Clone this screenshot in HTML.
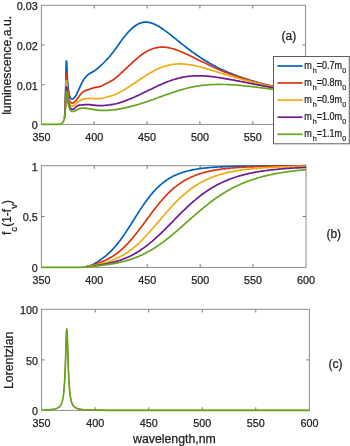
<!DOCTYPE html>
<html><head><meta charset="utf-8"><title>plot</title>
<style>html,body{margin:0;padding:0;background:#fff}svg{display:block}text{stroke:#222;stroke-width:.25px}</style></head>
<body>
<svg width="350" height="446" viewBox="0 0 350 446" font-family="'Liberation Sans', sans-serif" fill="#222222">
<rect width="350" height="446" fill="#fff"/>
<path d="M94.2 124.4v-3.2M94.2 5.3v3.2M147.1 124.4v-3.2M147.1 5.3v3.2M199.9 124.4v-3.2M199.9 5.3v3.2M252.8 124.4v-3.2M252.8 5.3v3.2M41.4 84.7h3.2M305.6 84.7h-3.2M41.4 45.0h3.2M305.6 45.0h-3.2" stroke="#6a6a6a" stroke-width="0.9" fill="none"/>
<rect x="41.4" y="5.3" width="264.2" height="119.1" fill="none" stroke="#8c8c8c" stroke-width="1"/>
<g fill="none" stroke-width="1.70" stroke-linejoin="round" stroke-linecap="butt">
<polyline stroke="#0062BE" points="64.3,118.9 64.4,118.5 64.5,117.9 64.6,117.2 64.7,116.3 64.8,114.7 64.9,111.4 65.0,107.2 65.1,103.2 65.2,100.0 65.3,97.6 65.4,95.4 65.5,93.0 65.6,90.1 65.7,86.1 65.8,80.8 65.9,75.6 66.0,70.1 66.1,65.6 66.2,62.4 66.3,61.1 66.4,60.9 66.5,60.9 66.6,61.1 66.7,62.1 66.8,63.7 66.9,66.3 67.0,68.7 67.1,71.2 67.2,73.6 67.3,75.8 67.4,77.9 67.5,79.5 67.6,80.9 67.7,82.2 67.8,83.3 67.9,84.3 68.0,85.4 68.1,86.3 68.2,87.2 68.3,88.0 68.4,88.8 68.5,89.6 68.6,90.4 68.7,91.2 68.8,92.0 68.9,92.8 69.0,93.5 69.1,94.2 69.2,94.8 69.3,95.3 69.4,95.7 69.5,96.0 69.6,96.3 69.7,96.6 69.8,96.9 69.9,97.1 70.0,97.3 70.1,97.5 70.2,97.7 70.3,97.9 70.4,98.0 70.5,98.1 70.6,98.2 70.7,98.3 70.8,98.4 70.9,98.5 71.0,98.6 71.1,98.6 71.2,98.7 71.3,98.8 71.4,98.8 71.5,98.9 71.6,98.9 71.7,99.0 71.8,99.0 71.9,99.0 72.0,99.0 72.1,99.0 72.2,99.0 72.3,99.0 72.4,99.0 72.5,98.9 72.6,98.9 72.7,98.9 72.8,98.8 72.9,98.8 73.0,98.7 73.1,98.7 73.2,98.6 73.3,98.6 73.4,98.5 73.5,98.4 73.6,98.4 73.7,98.3 73.8,98.2 73.9,98.1 74.0,98.0 74.1,97.9 74.2,97.8 74.3,97.7 74.4,97.6 74.5,97.5 74.6,97.4 74.7,97.2 74.8,97.1 74.9,97.0 75.0,96.8 75.1,96.7 75.2,96.6 75.3,96.4 75.4,96.3 75.5,96.1 75.6,96.0 75.7,95.8 75.8,95.6 75.9,95.5 76.0,95.3 76.1,95.1 76.2,95.0 76.3,94.8 76.4,94.6 76.5,94.4 76.6,94.2 76.7,94.0 76.8,93.8 76.9,93.6 77.0,93.4 77.1,93.2 77.2,93.0 77.3,92.8 77.4,92.6 77.5,92.4 77.6,92.2 77.7,92.0 77.8,91.8 77.9,91.6 78.0,91.3 78.1,91.1 78.2,90.9 78.3,90.7 78.4,90.5 78.5,90.2 78.6,90.0 78.7,89.8 78.8,89.6 78.9,89.3 79.0,89.1 79.1,88.9 79.2,88.7 79.3,88.4 79.4,88.2 79.5,88.0 79.6,87.8 79.7,87.5 79.8,87.3 79.9,87.1 80.0,86.9 80.1,86.6 80.2,86.4 80.3,86.2 80.4,86.0 80.5,85.7 80.6,85.5 80.7,85.3 80.8,85.1 80.9,84.9 81.0,84.7 81.1,84.4 81.2,84.2 81.3,84.0 81.4,83.8 81.5,83.6 81.6,83.4 81.7,83.2 81.8,83.0 81.9,82.8 82.0,82.6 82.1,82.4 82.2,82.2 82.3,82.0 82.4,81.8 82.5,81.7 82.6,81.5 82.7,81.3 82.8,81.1 82.9,80.9 83.0,80.8 83.1,80.6 83.2,80.4 83.3,80.3 83.4,80.1 83.5,80.0 83.6,79.8 83.7,79.6 83.8,79.5 83.9,79.3 84.0,79.2 84.1,79.0 84.2,78.9 84.3,78.7 84.4,78.6 84.5,78.5 84.6,78.3 84.7,78.2 84.8,78.1 84.9,77.9 85.0,77.8 85.1,77.7 85.2,77.5 85.3,77.4 85.4,77.3 85.5,77.2 85.6,77.1 85.7,76.9 85.8,76.8 85.9,76.7 86.0,76.6 86.1,76.5 86.2,76.4 86.3,76.3 86.4,76.2 86.5,76.1 86.6,76.0 86.7,75.9 86.8,75.8 86.9,75.7 87.0,75.6 87.1,75.5 87.2,75.4 87.3,75.3 87.4,75.2 87.5,75.1 87.6,75.0 87.7,74.9 87.8,74.9 87.9,74.8 88.0,74.7 88.1,74.6 88.2,74.5 88.3,74.5 88.4,74.4 88.5,74.3 88.6,74.2 88.7,74.2 88.8,74.1 88.9,74.0 89.0,74.0 89.1,73.9 89.2,73.8 89.3,73.8 89.4,73.7 89.5,73.6 89.6,73.6 89.7,73.5 89.8,73.4 89.9,73.4 90.0,73.3 90.1,73.2 90.2,73.2 90.3,73.1 90.4,73.1 90.5,73.0 90.6,72.9 90.7,72.9 90.8,72.8 90.9,72.8 91.0,72.7 91.1,72.7 91.2,72.6 91.3,72.6 91.4,72.5 91.5,72.4 91.6,72.4 91.7,72.3 91.8,72.3 91.9,72.2 92.0,72.2 92.1,72.1 92.2,72.1 92.3,72.0 92.4,71.9 92.5,71.9 92.6,71.8 92.7,71.8 92.8,71.7 92.9,71.7 93.0,71.6 93.1,71.6 93.2,71.5 93.3,71.4 93.4,71.4 93.5,71.3 93.6,71.3 93.7,71.2 93.8,71.1 93.9,71.1 94.0,71.0 94.1,71.0 94.2,70.9 94.3,70.8 94.4,70.8 94.5,70.7 94.6,70.6 94.7,70.6 94.8,70.5 94.9,70.4 95.0,70.4 95.1,70.3 95.2,70.2 95.3,70.2 95.4,70.1 95.5,70.0 95.6,69.9 95.7,69.9 95.8,69.8 95.9,69.7 96.0,69.7 96.1,69.6 96.2,69.5 96.3,69.4 96.4,69.3 96.5,69.3 96.6,69.2 96.7,69.1 96.8,69.0 96.9,69.0 97.0,68.9 97.1,68.8 97.2,68.7 97.3,68.6 97.4,68.6 97.5,68.5 97.6,68.4 97.7,68.3 97.8,68.2 97.9,68.1 98.0,68.1 98.1,68.0 98.2,67.9 98.3,67.8 98.4,67.7 98.5,67.6 98.6,67.5 98.7,67.5 98.8,67.4 98.9,67.3 99.0,67.2 99.1,67.1 99.2,67.0 99.3,66.9 99.4,66.8 99.5,66.7 99.6,66.7 99.7,66.6 99.8,66.5 99.9,66.4 100.0,66.3 101.0,65.4 102.0,64.5 103.0,63.5 104.0,62.5 105.0,61.5 106.0,60.5 107.0,59.4 108.0,58.3 109.0,57.2 110.0,56.0 111.0,54.8 112.0,53.5 113.0,52.2 114.0,50.9 115.0,49.6 116.0,48.2 117.0,46.8 118.0,45.3 119.0,43.9 120.0,42.5 121.0,41.2 122.0,39.8 123.0,38.5 124.0,37.2 125.0,36.0 126.0,34.7 127.0,33.6 128.0,32.4 129.0,31.3 130.0,30.3 131.0,29.3 132.0,28.4 133.0,27.5 134.0,26.7 135.0,26.0 136.0,25.3 137.0,24.7 138.0,24.1 139.0,23.6 140.0,23.2 141.0,22.9 142.0,22.6 143.0,22.4 144.0,22.2 145.0,22.2 146.0,22.1 147.0,22.2 148.0,22.3 149.0,22.4 150.0,22.6 151.0,22.9 152.0,23.2 153.0,23.6 154.0,24.0 155.0,24.4 156.0,24.9 157.0,25.4 158.0,26.0 159.0,26.6 160.0,27.2 161.0,27.8 162.0,28.5 163.0,29.2 164.0,29.9 165.0,30.6 166.0,31.3 167.0,32.1 168.0,32.9 169.0,33.6 170.0,34.4 171.0,35.2 172.0,36.0 173.0,36.8 174.0,37.6 175.0,38.4 176.0,39.2 177.0,40.1 178.0,40.9 179.0,41.7 180.0,42.5 181.0,43.3 182.0,44.1 183.0,44.9 184.0,45.6 185.0,46.4 186.0,47.2 187.0,48.0 188.0,48.7 189.0,49.5 190.0,50.2 191.0,51.0 192.0,51.7 193.0,52.4 194.0,53.1 195.0,53.8 196.0,54.5 197.0,55.2 198.0,55.9 199.0,56.6 200.0,57.2 201.0,57.9 202.0,58.5 203.0,59.2 204.0,59.8 205.0,60.4 206.0,61.0 207.0,61.6 208.0,62.2 209.0,62.8 210.0,63.4 211.0,63.9 212.0,64.5 213.0,65.1 214.0,65.6 215.0,66.1 216.0,66.7 217.0,67.2 218.0,67.7 219.0,68.2 220.0,68.7 221.0,69.2 222.0,69.6 223.0,70.1 224.0,70.5 225.0,71.0 226.0,71.4 227.0,71.8 228.0,72.3 229.0,72.7 230.0,73.1 231.0,73.5 232.0,73.9 233.0,74.3 234.0,74.7 235.0,75.1 236.0,75.4 237.0,75.8 238.0,76.2 239.0,76.5 240.0,76.9 241.0,77.2 242.0,77.6 243.0,77.9 244.0,78.2 245.0,78.6 246.0,78.9 247.0,79.2 248.0,79.5 249.0,79.9 250.0,80.2 251.0,80.5 252.0,80.8 253.0,81.1 254.0,81.4 255.0,81.6 256.0,81.9 257.0,82.2 258.0,82.5 259.0,82.8 260.0,83.0 261.0,83.3 262.0,83.5 263.0,83.8 264.0,84.1 265.0,84.3 266.0,84.6 267.0,84.8 268.0,85.1 269.0,85.3 270.0,85.5 271.0,85.8 272.0,86.0 273.0,86.2 274.0,86.4 275.0,86.7 276.0,86.9 277.0,87.1 278.0,87.3 279.0,87.5 280.0,87.7 281.0,87.9 282.0,88.1 283.0,88.3 284.0,88.5 285.0,88.7 286.0,88.9 287.0,89.1 288.0,89.3 289.0,89.5 290.0,89.7 291.0,89.9 292.0,90.1 293.0,90.2 294.0,90.4 295.0,90.6 296.0,90.8 297.0,90.9 298.0,91.1 299.0,91.3 300.0,91.4 301.0,91.6 302.0,91.8 303.0,91.9 304.0,92.1 305.6,92.3"/>
<polyline stroke="#DA3510" points="64.4,118.4 64.5,117.8 64.6,117.1 64.7,116.3 64.8,115.0 64.9,112.7 65.0,109.8 65.1,107.0 65.2,104.6 65.3,102.7 65.4,100.9 65.5,98.9 65.6,96.6 65.7,93.3 65.8,89.0 65.9,84.7 66.0,80.3 66.1,76.6 66.2,74.0 66.3,73.0 66.4,72.8 66.5,72.8 66.6,72.9 66.7,73.6 66.8,74.8 66.9,76.7 67.0,78.6 67.1,80.5 67.2,82.4 67.3,84.2 67.4,85.8 67.5,87.2 67.6,88.3 67.7,89.3 67.8,90.2 67.9,91.0 68.0,91.8 68.1,92.6 68.2,93.3 68.3,93.9 68.4,94.6 68.5,95.2 68.6,95.8 68.7,96.4 68.8,97.0 68.9,97.6 69.0,98.2 69.1,98.8 69.2,99.3 69.3,99.8 69.4,100.1 69.5,100.4 69.6,100.7 69.7,100.9 69.8,101.2 69.9,101.4 70.0,101.6 70.1,101.7 70.2,101.9 70.3,102.0 70.4,102.2 70.5,102.3 70.6,102.3 70.7,102.4 70.8,102.5 70.9,102.6 71.0,102.6 71.1,102.7 71.2,102.8 71.3,102.8 71.4,102.9 71.5,102.9 71.6,103.0 71.7,103.0 71.8,103.0 71.9,103.1 72.0,103.1 72.1,103.1 72.2,103.1 72.3,103.1 72.4,103.1 72.5,103.1 72.6,103.1 72.7,103.0 72.8,103.0 72.9,103.0 73.0,103.0 73.1,102.9 73.2,102.9 73.3,102.8 73.4,102.8 73.5,102.7 73.6,102.7 73.7,102.6 73.8,102.6 73.9,102.5 74.0,102.4 74.1,102.4 74.2,102.3 74.3,102.2 74.4,102.1 74.5,102.0 74.6,102.0 74.7,101.9 74.8,101.8 74.9,101.7 75.0,101.6 75.1,101.5 75.2,101.4 75.3,101.3 75.4,101.2 75.5,101.1 75.6,101.0 75.7,100.8 75.8,100.7 75.9,100.6 76.0,100.5 76.1,100.4 76.2,100.3 76.3,100.1 76.4,100.0 76.5,99.9 76.6,99.8 76.7,99.6 76.8,99.5 76.9,99.4 77.0,99.2 77.1,99.1 77.2,99.0 77.3,98.8 77.4,98.7 77.5,98.6 77.6,98.4 77.7,98.3 77.8,98.2 77.9,98.0 78.0,97.9 78.1,97.7 78.2,97.6 78.3,97.5 78.4,97.3 78.5,97.2 78.6,97.0 78.7,96.9 78.8,96.8 78.9,96.6 79.0,96.5 79.1,96.4 79.2,96.2 79.3,96.1 79.4,95.9 79.5,95.8 79.6,95.7 79.7,95.5 79.8,95.4 79.9,95.3 80.0,95.1 80.1,95.0 80.2,94.9 80.3,94.7 80.4,94.6 80.5,94.5 80.6,94.4 80.7,94.2 80.8,94.1 80.9,94.0 81.0,93.9 81.1,93.8 81.2,93.6 81.3,93.5 81.4,93.4 81.5,93.3 81.6,93.2 81.7,93.1 81.8,93.0 81.9,92.9 82.0,92.8 82.1,92.7 82.2,92.6 82.3,92.5 82.4,92.4 82.5,92.3 82.6,92.3 82.7,92.2 82.8,92.1 82.9,92.0 83.0,91.9 83.1,91.9 83.2,91.8 83.3,91.7 83.4,91.7 83.5,91.6 83.6,91.5 83.7,91.5 83.8,91.4 83.9,91.3 84.0,91.3 84.1,91.2 84.2,91.2 84.3,91.1 84.4,91.1 84.5,91.0 84.6,91.0 84.7,90.9 84.8,90.9 84.9,90.8 85.0,90.8 85.1,90.7 85.2,90.7 85.3,90.6 85.4,90.6 85.5,90.6 85.6,90.5 85.7,90.5 85.8,90.4 85.9,90.4 86.0,90.4 86.1,90.3 86.2,90.3 86.3,90.3 86.4,90.2 86.5,90.2 86.6,90.2 86.7,90.1 86.8,90.1 86.9,90.1 87.0,90.0 87.1,90.0 87.2,90.0 87.3,89.9 87.4,89.9 87.5,89.9 87.6,89.8 87.7,89.8 87.8,89.8 87.9,89.7 88.0,89.7 88.1,89.7 88.2,89.6 88.3,89.6 88.4,89.6 88.5,89.5 88.6,89.5 88.7,89.5 88.8,89.4 88.9,89.4 89.0,89.4 89.1,89.3 89.2,89.3 89.3,89.3 89.4,89.2 89.5,89.2 89.6,89.2 89.7,89.1 89.8,89.1 89.9,89.0 90.0,89.0 90.1,89.0 90.2,88.9 90.3,88.9 90.4,88.9 90.5,88.8 90.6,88.8 90.7,88.8 90.8,88.7 90.9,88.7 91.0,88.7 91.1,88.6 91.2,88.6 91.3,88.6 91.4,88.5 91.5,88.5 91.6,88.5 91.7,88.4 91.8,88.4 91.9,88.4 92.0,88.3 92.1,88.3 92.2,88.3 92.3,88.2 92.4,88.2 92.5,88.2 92.6,88.1 92.7,88.1 92.8,88.1 92.9,88.0 93.0,88.0 93.1,88.0 93.2,88.0 93.3,87.9 93.4,87.9 93.5,87.9 93.6,87.9 93.7,87.8 93.8,87.8 93.9,87.8 94.0,87.7 94.1,87.7 94.2,87.7 94.3,87.7 94.4,87.7 94.5,87.6 94.6,87.6 94.7,87.6 94.8,87.6 94.9,87.5 95.0,87.5 95.1,87.5 95.2,87.5 95.3,87.5 95.4,87.4 95.5,87.4 95.6,87.4 95.7,87.4 95.8,87.4 95.9,87.4 96.0,87.3 96.1,87.3 96.2,87.3 96.3,87.3 96.4,87.3 96.5,87.3 96.6,87.2 96.7,87.2 96.8,87.2 96.9,87.2 97.0,87.2 97.1,87.2 97.2,87.1 97.3,87.1 97.4,87.1 97.5,87.1 97.6,87.1 97.7,87.0 97.8,87.0 97.9,87.0 98.0,87.0 98.1,87.0 98.2,86.9 98.3,86.9 98.4,86.9 98.5,86.9 98.6,86.9 98.7,86.8 98.8,86.8 98.9,86.8 99.0,86.8 99.1,86.7 99.2,86.7 99.3,86.7 99.4,86.7 99.5,86.6 99.6,86.6 99.7,86.6 99.8,86.6 99.9,86.5 100.0,86.5 101.0,86.2 102.0,85.7 103.0,85.3 104.0,84.8 105.0,84.3 106.0,83.7 107.0,83.2 108.0,82.7 109.0,82.2 110.0,81.6 111.0,81.1 112.0,80.5 113.0,79.9 114.0,79.3 115.0,78.5 116.0,77.7 117.0,76.9 118.0,76.0 119.0,75.1 120.0,74.1 121.0,73.2 122.0,72.3 123.0,71.4 124.0,70.4 125.0,69.5 126.0,68.6 127.0,67.6 128.0,66.7 129.0,65.7 130.0,64.8 131.0,63.8 132.0,62.9 133.0,62.0 134.0,61.1 135.0,60.2 136.0,59.3 137.0,58.4 138.0,57.6 139.0,56.8 140.0,56.0 141.0,55.2 142.0,54.5 143.0,53.8 144.0,53.1 145.0,52.5 146.0,51.9 147.0,51.3 148.0,50.8 149.0,50.3 150.0,49.8 151.0,49.4 152.0,49.0 153.0,48.6 154.0,48.3 155.0,48.0 156.0,47.8 157.0,47.6 158.0,47.4 159.0,47.3 160.0,47.2 161.0,47.2 162.0,47.1 163.0,47.1 164.0,47.2 165.0,47.2 166.0,47.3 167.0,47.5 168.0,47.6 169.0,47.8 170.0,48.0 171.0,48.3 172.0,48.5 173.0,48.8 174.0,49.1 175.0,49.4 176.0,49.7 177.0,50.1 178.0,50.5 179.0,50.8 180.0,51.2 181.0,51.7 182.0,52.1 183.0,52.5 184.0,52.9 185.0,53.4 186.0,53.9 187.0,54.3 188.0,54.8 189.0,55.3 190.0,55.7 191.0,56.2 192.0,56.7 193.0,57.2 194.0,57.7 195.0,58.2 196.0,58.7 197.0,59.2 198.0,59.7 199.0,60.2 200.0,60.7 201.0,61.2 202.0,61.7 203.0,62.1 204.0,62.6 205.0,63.1 206.0,63.6 207.0,64.1 208.0,64.6 209.0,65.0 210.0,65.5 211.0,66.0 212.0,66.5 213.0,66.9 214.0,67.4 215.0,67.8 216.0,68.3 217.0,68.7 218.0,69.2 219.0,69.6 220.0,70.0 221.0,70.5 222.0,70.9 223.0,71.3 224.0,71.7 225.0,72.1 226.0,72.4 227.0,72.8 228.0,73.2 229.0,73.6 230.0,74.0 231.0,74.3 232.0,74.7 233.0,75.0 234.0,75.4 235.0,75.7 236.0,76.1 237.0,76.4 238.0,76.8 239.0,77.1 240.0,77.4 241.0,77.8 242.0,78.1 243.0,78.4 244.0,78.7 245.0,79.0 246.0,79.3 247.0,79.6 248.0,79.9 249.0,80.2 250.0,80.5 251.0,80.8 252.0,81.1 253.0,81.4 254.0,81.7 255.0,81.9 256.0,82.2 257.0,82.5 258.0,82.7 259.0,83.0 260.0,83.3 261.0,83.5 262.0,83.8 263.0,84.0 264.0,84.3 265.0,84.5 266.0,84.8 267.0,85.0 268.0,85.2 269.0,85.5 270.0,85.7 271.0,85.9 272.0,86.1 273.0,86.4 274.0,86.6 275.0,86.8 276.0,87.0 277.0,87.2 278.0,87.4 279.0,87.6 280.0,87.8 281.0,88.0 282.0,88.2 283.0,88.4 284.0,88.6 285.0,88.8 286.0,89.0 287.0,89.2 288.0,89.4 289.0,89.6 290.0,89.8 291.0,89.9 292.0,90.1 293.0,90.3 294.0,90.5 295.0,90.6 296.0,90.8 297.0,91.0 298.0,91.2 299.0,91.3 300.0,91.5 301.0,91.6 302.0,91.8 303.0,92.0 304.0,92.1 305.6,92.4"/>
<polyline stroke="#EFAC12" points="64.7,116.3 64.8,115.2 64.9,113.5 65.0,111.5 65.1,109.4 65.2,107.5 65.3,105.9 65.4,104.4 65.5,102.7 65.6,100.6 65.7,97.8 65.8,94.2 65.9,90.5 66.0,86.7 66.1,83.6 66.2,81.4 66.3,80.5 66.4,80.3 66.5,80.3 66.6,80.4 66.7,80.9 66.8,81.7 66.9,83.2 67.0,84.7 67.1,86.2 67.2,87.7 67.3,89.2 67.4,90.6 67.5,91.8 67.6,92.8 67.7,93.7 67.8,94.5 67.9,95.2 68.0,95.9 68.1,96.5 68.2,97.1 68.3,97.7 68.4,98.2 68.5,98.7 68.6,99.2 68.7,99.7 68.8,100.2 68.9,100.7 69.0,101.2 69.1,101.7 69.2,102.1 69.3,102.6 69.4,103.0 69.5,103.4 69.6,103.7 69.7,103.9 69.8,104.1 69.9,104.3 70.0,104.5 70.1,104.7 70.2,104.8 70.3,105.0 70.4,105.1 70.5,105.2 70.6,105.3 70.7,105.4 70.8,105.5 70.9,105.6 71.0,105.6 71.1,105.7 71.2,105.7 71.3,105.8 71.4,105.8 71.5,105.9 71.6,105.9 71.7,106.0 71.8,106.0 71.9,106.1 72.0,106.1 72.1,106.1 72.2,106.2 72.3,106.2 72.4,106.2 72.5,106.2 72.6,106.2 72.7,106.2 72.8,106.2 72.9,106.2 73.0,106.1 73.1,106.1 73.2,106.1 73.3,106.0 73.4,106.0 73.5,105.9 73.6,105.9 73.7,105.8 73.8,105.8 73.9,105.7 74.0,105.6 74.1,105.5 74.2,105.5 74.3,105.4 74.4,105.3 74.5,105.2 74.6,105.1 74.7,105.0 74.8,104.9 74.9,104.8 75.0,104.7 75.1,104.6 75.2,104.5 75.3,104.4 75.4,104.3 75.5,104.2 75.6,104.1 75.7,104.0 75.8,103.9 75.9,103.8 76.0,103.7 76.1,103.6 76.2,103.5 76.3,103.4 76.4,103.3 76.5,103.2 76.6,103.1 76.7,103.0 76.8,102.9 76.9,102.8 77.0,102.8 77.1,102.7 77.2,102.6 77.3,102.5 77.4,102.4 77.5,102.3 77.6,102.2 77.7,102.2 77.8,102.1 77.9,102.0 78.0,101.9 78.1,101.8 78.2,101.8 78.3,101.7 78.4,101.6 78.5,101.5 78.6,101.5 78.7,101.4 78.8,101.3 78.9,101.3 79.0,101.2 79.1,101.1 79.2,101.1 79.3,101.0 79.4,100.9 79.5,100.9 79.6,100.8 79.7,100.8 79.8,100.7 79.9,100.6 80.0,100.6 80.1,100.5 80.2,100.5 80.3,100.4 80.4,100.4 80.5,100.3 80.6,100.2 80.7,100.2 80.8,100.1 80.9,100.1 81.0,100.0 81.1,100.0 81.2,99.9 81.3,99.9 81.4,99.9 81.5,99.8 81.6,99.8 81.7,99.7 81.8,99.7 81.9,99.6 82.0,99.6 82.1,99.6 82.2,99.5 82.3,99.5 82.4,99.4 82.5,99.4 82.6,99.4 82.7,99.3 82.8,99.3 82.9,99.3 83.0,99.2 83.1,99.2 83.2,99.2 83.3,99.1 83.4,99.1 83.5,99.1 83.6,99.1 83.7,99.0 83.8,99.0 83.9,99.0 84.0,99.0 84.1,98.9 84.2,98.9 84.3,98.9 84.4,98.9 84.5,98.8 84.6,98.8 84.7,98.8 84.8,98.8 84.9,98.7 85.0,98.7 85.1,98.7 85.2,98.7 85.3,98.7 85.4,98.7 85.5,98.6 85.6,98.6 85.7,98.6 85.8,98.6 85.9,98.6 86.0,98.6 86.1,98.6 86.2,98.5 86.3,98.5 86.4,98.5 86.5,98.5 86.6,98.5 86.7,98.5 86.8,98.5 86.9,98.5 87.0,98.5 87.1,98.5 87.2,98.4 87.3,98.4 87.4,98.4 87.5,98.4 87.6,98.4 87.7,98.4 87.8,98.4 87.9,98.4 88.0,98.4 88.1,98.4 88.2,98.4 88.3,98.4 88.4,98.4 88.5,98.4 88.6,98.4 88.7,98.4 88.8,98.4 88.9,98.4 89.0,98.4 89.1,98.4 89.2,98.4 89.3,98.4 89.4,98.4 89.5,98.4 89.6,98.4 89.7,98.4 89.8,98.4 89.9,98.4 90.0,98.4 90.1,98.4 90.2,98.4 90.3,98.4 90.4,98.4 90.5,98.4 90.6,98.4 90.7,98.4 90.8,98.4 90.9,98.4 91.0,98.4 91.1,98.4 91.2,98.4 91.3,98.4 91.4,98.4 91.5,98.4 91.6,98.4 91.7,98.4 91.8,98.5 91.9,98.5 92.0,98.5 92.1,98.5 92.2,98.5 92.3,98.5 92.4,98.5 92.5,98.5 92.6,98.5 92.7,98.5 92.8,98.5 92.9,98.5 93.0,98.5 93.1,98.5 93.2,98.5 93.3,98.5 93.4,98.5 93.5,98.6 93.6,98.6 93.7,98.6 93.8,98.6 93.9,98.6 94.0,98.6 94.1,98.6 94.2,98.6 94.3,98.6 94.4,98.6 94.5,98.6 94.6,98.6 94.7,98.6 94.8,98.6 94.9,98.6 95.0,98.6 95.1,98.7 95.2,98.7 95.3,98.7 95.4,98.7 95.5,98.7 95.6,98.7 95.7,98.7 95.8,98.7 95.9,98.7 96.0,98.7 96.1,98.7 96.2,98.7 96.3,98.7 96.4,98.7 96.5,98.7 96.6,98.7 96.7,98.7 96.8,98.7 96.9,98.7 97.0,98.7 97.1,98.7 97.2,98.7 97.3,98.7 97.4,98.7 97.5,98.7 97.6,98.7 97.7,98.7 97.8,98.7 97.9,98.7 98.0,98.7 98.1,98.7 98.2,98.7 98.3,98.7 98.4,98.7 98.5,98.7 98.6,98.7 98.7,98.7 98.8,98.7 98.9,98.7 99.0,98.7 99.1,98.7 99.2,98.7 99.3,98.7 99.4,98.7 99.5,98.6 99.6,98.6 99.7,98.6 99.8,98.6 99.9,98.6 100.0,98.6 101.0,98.5 102.0,98.3 103.0,98.0 104.0,97.8 105.0,97.5 106.0,97.3 107.0,97.0 108.0,96.7 109.0,96.5 110.0,96.2 111.0,96.0 112.0,95.7 113.0,95.4 114.0,95.0 115.0,94.7 116.0,94.2 117.0,93.7 118.0,93.2 119.0,92.7 120.0,92.1 121.0,91.6 122.0,91.0 123.0,90.5 124.0,89.9 125.0,89.3 126.0,88.7 127.0,88.0 128.0,87.4 129.0,86.8 130.0,86.1 131.0,85.5 132.0,84.8 133.0,84.2 134.0,83.5 135.0,82.8 136.0,82.2 137.0,81.5 138.0,80.8 139.0,80.1 140.0,79.5 141.0,78.8 142.0,78.1 143.0,77.5 144.0,76.8 145.0,76.2 146.0,75.5 147.0,74.9 148.0,74.3 149.0,73.7 150.0,73.1 151.0,72.5 152.0,71.9 153.0,71.4 154.0,70.8 155.0,70.3 156.0,69.8 157.0,69.3 158.0,68.8 159.0,68.4 160.0,68.0 161.0,67.6 162.0,67.2 163.0,66.8 164.0,66.5 165.0,66.1 166.0,65.8 167.0,65.6 168.0,65.3 169.0,65.1 170.0,64.9 171.0,64.7 172.0,64.5 173.0,64.4 174.0,64.2 175.0,64.1 176.0,64.1 177.0,64.0 178.0,63.9 179.0,63.9 180.0,63.9 181.0,63.9 182.0,64.0 183.0,64.0 184.0,64.1 185.0,64.2 186.0,64.3 187.0,64.4 188.0,64.5 189.0,64.6 190.0,64.8 191.0,65.0 192.0,65.1 193.0,65.3 194.0,65.5 195.0,65.7 196.0,66.0 197.0,66.2 198.0,66.4 199.0,66.7 200.0,66.9 201.0,67.2 202.0,67.5 203.0,67.7 204.0,68.0 205.0,68.3 206.0,68.6 207.0,68.9 208.0,69.2 209.0,69.5 210.0,69.8 211.0,70.1 212.0,70.4 213.0,70.7 214.0,71.0 215.0,71.3 216.0,71.6 217.0,72.0 218.0,72.3 219.0,72.6 220.0,72.9 221.0,73.2 222.0,73.5 223.0,73.8 224.0,74.1 225.0,74.4 226.0,74.7 227.0,75.0 228.0,75.3 229.0,75.6 230.0,75.9 231.0,76.2 232.0,76.5 233.0,76.8 234.0,77.1 235.0,77.4 236.0,77.6 237.0,77.9 238.0,78.2 239.0,78.5 240.0,78.8 241.0,79.0 242.0,79.3 243.0,79.6 244.0,79.9 245.0,80.1 246.0,80.4 247.0,80.7 248.0,80.9 249.0,81.2 250.0,81.4 251.0,81.7 252.0,82.0 253.0,82.2 254.0,82.5 255.0,82.7 256.0,82.9 257.0,83.2 258.0,83.4 259.0,83.7 260.0,83.9 261.0,84.1 262.0,84.4 263.0,84.6 264.0,84.8 265.0,85.0 266.0,85.3 267.0,85.5 268.0,85.7 269.0,85.9 270.0,86.1 271.0,86.3 272.0,86.6 273.0,86.8 274.0,87.0 275.0,87.2 276.0,87.4 277.0,87.6 278.0,87.8 279.0,88.0 280.0,88.2 281.0,88.4 282.0,88.5 283.0,88.7 284.0,88.9 285.0,89.1 286.0,89.3 287.0,89.5 288.0,89.6 289.0,89.8 290.0,90.0 291.0,90.2 292.0,90.3 293.0,90.5 294.0,90.7 295.0,90.8 296.0,91.0 297.0,91.2 298.0,91.3 299.0,91.5 300.0,91.6 301.0,91.8 302.0,92.0 303.0,92.1 304.0,92.3 305.6,92.5"/>
<polyline stroke="#701C90" points="64.8,115.4 64.9,114.2 65.0,112.9 65.1,111.5 65.2,110.1 65.3,108.8 65.4,107.4 65.5,105.9 65.6,104.2 65.7,101.8 65.8,98.7 65.9,95.6 66.0,92.4 66.1,89.7 66.2,87.8 66.3,87.0 66.4,86.9 66.5,86.9 66.6,86.9 66.7,87.3 66.8,88.0 66.9,89.1 67.0,90.4 67.1,91.6 67.2,92.9 67.3,94.1 67.4,95.3 67.5,96.4 67.6,97.3 67.7,98.1 67.8,98.8 67.9,99.4 68.0,100.0 68.1,100.5 68.2,101.0 68.3,101.5 68.4,102.0 68.5,102.4 68.6,102.8 68.7,103.3 68.8,103.7 68.9,104.1 69.0,104.5 69.1,104.9 69.2,105.3 69.3,105.7 69.4,106.0 69.5,106.4 69.6,106.7 69.7,107.0 69.8,107.2 69.9,107.4 70.0,107.6 70.1,107.7 70.2,107.9 70.3,108.0 70.4,108.1 70.5,108.2 70.6,108.4 70.7,108.5 70.8,108.5 70.9,108.6 71.0,108.7 71.1,108.7 71.2,108.8 71.3,108.8 71.4,108.9 71.5,108.9 71.6,109.0 71.7,109.0 71.8,109.1 71.9,109.1 72.0,109.1 72.1,109.2 72.2,109.2 72.3,109.2 72.4,109.2 72.5,109.3 72.6,109.3 72.7,109.3 72.8,109.3 72.9,109.3 73.0,109.3 73.1,109.3 73.2,109.3 73.3,109.2 73.4,109.2 73.5,109.2 73.6,109.1 73.7,109.0 73.8,109.0 73.9,108.9 74.0,108.8 74.1,108.8 74.2,108.7 74.3,108.6 74.4,108.5 74.5,108.4 74.6,108.3 74.7,108.2 74.8,108.1 74.9,108.0 75.0,107.9 75.1,107.8 75.2,107.7 75.3,107.6 75.4,107.5 75.5,107.4 75.6,107.3 75.7,107.2 75.8,107.1 75.9,107.0 76.0,106.9 76.1,106.8 76.2,106.7 76.3,106.6 76.4,106.6 76.5,106.5 76.6,106.4 76.7,106.3 76.8,106.3 76.9,106.2 77.0,106.1 77.1,106.1 77.2,106.0 77.3,105.9 77.4,105.9 77.5,105.8 77.6,105.8 77.7,105.7 77.8,105.7 77.9,105.6 78.0,105.6 78.1,105.5 78.2,105.5 78.3,105.5 78.4,105.4 78.5,105.4 78.6,105.4 78.7,105.3 78.8,105.3 78.9,105.3 79.0,105.3 79.1,105.2 79.2,105.2 79.3,105.2 79.4,105.2 79.5,105.1 79.6,105.1 79.7,105.1 79.8,105.1 79.9,105.1 80.0,105.1 80.1,105.0 80.2,105.0 80.3,105.0 80.4,105.0 80.5,105.0 80.6,105.0 80.7,105.0 80.8,105.0 80.9,105.0 81.0,105.0 81.1,105.0 81.2,104.9 81.3,104.9 81.4,104.9 81.5,104.9 81.6,104.9 81.7,104.9 81.8,104.9 81.9,104.9 82.0,104.9 82.1,104.9 82.2,104.9 82.3,104.9 82.4,104.9 82.5,104.9 82.6,104.9 82.7,104.9 82.8,104.8 82.9,104.8 83.0,104.8 83.1,104.8 83.2,104.8 83.3,104.8 83.4,104.8 83.5,104.8 83.6,104.8 83.7,104.8 83.8,104.8 83.9,104.8 84.0,104.8 84.1,104.8 84.2,104.7 84.3,104.7 84.4,104.7 84.5,104.7 84.6,104.7 84.7,104.7 84.8,104.7 84.9,104.7 85.0,104.7 85.1,104.7 85.2,104.7 85.3,104.7 85.4,104.7 85.5,104.7 85.6,104.7 85.7,104.7 85.8,104.6 85.9,104.6 86.0,104.6 86.1,104.6 86.2,104.6 86.3,104.6 86.4,104.6 86.5,104.6 86.6,104.6 86.7,104.6 86.8,104.6 86.9,104.6 87.0,104.6 87.1,104.6 87.2,104.6 87.3,104.6 87.4,104.6 87.5,104.6 87.6,104.6 87.7,104.6 87.8,104.6 87.9,104.6 88.0,104.6 88.1,104.6 88.2,104.6 88.3,104.6 88.4,104.6 88.5,104.6 88.6,104.6 88.7,104.6 88.8,104.6 88.9,104.6 89.0,104.6 89.1,104.6 89.2,104.6 89.3,104.7 89.4,104.7 89.5,104.7 89.6,104.7 89.7,104.7 89.8,104.7 89.9,104.7 90.0,104.7 90.1,104.7 90.2,104.7 90.3,104.7 90.4,104.7 90.5,104.8 90.6,104.8 90.7,104.8 90.8,104.8 90.9,104.8 91.0,104.8 91.1,104.8 91.2,104.8 91.3,104.8 91.4,104.8 91.5,104.9 91.6,104.9 91.7,104.9 91.8,104.9 91.9,104.9 92.0,104.9 92.1,104.9 92.2,104.9 92.3,105.0 92.4,105.0 92.5,105.0 92.6,105.0 92.7,105.0 92.8,105.0 92.9,105.0 93.0,105.0 93.1,105.1 93.2,105.1 93.3,105.1 93.4,105.1 93.5,105.1 93.6,105.1 93.7,105.1 93.8,105.1 93.9,105.2 94.0,105.2 94.1,105.2 94.2,105.2 94.3,105.2 94.4,105.2 94.5,105.2 94.6,105.3 94.7,105.3 94.8,105.3 94.9,105.3 95.0,105.3 95.1,105.3 95.2,105.3 95.3,105.3 95.4,105.4 95.5,105.4 95.6,105.4 95.7,105.4 95.8,105.4 95.9,105.4 96.0,105.4 96.1,105.4 96.2,105.4 96.3,105.5 96.4,105.5 96.5,105.5 96.6,105.5 96.7,105.5 96.8,105.5 96.9,105.5 97.0,105.5 97.1,105.5 97.2,105.5 97.3,105.6 97.4,105.6 97.5,105.6 97.6,105.6 97.7,105.6 97.8,105.6 97.9,105.6 98.0,105.6 98.1,105.6 98.2,105.6 98.3,105.6 98.4,105.6 98.5,105.6 98.6,105.7 98.7,105.7 98.8,105.7 98.9,105.7 99.0,105.7 99.1,105.7 99.2,105.7 99.3,105.7 99.4,105.7 99.5,105.7 99.6,105.7 99.7,105.7 99.8,105.7 99.9,105.7 100.0,105.7 101.0,105.7 102.0,105.7 103.0,105.6 104.0,105.5 105.0,105.4 106.0,105.3 107.0,105.2 108.0,105.1 109.0,105.0 110.0,104.9 111.0,104.7 112.0,104.6 113.0,104.4 114.0,104.2 115.0,104.0 116.0,103.8 117.0,103.5 118.0,103.2 119.0,102.9 120.0,102.6 121.0,102.2 122.0,101.9 123.0,101.6 124.0,101.2 125.0,100.9 126.0,100.5 127.0,100.1 128.0,99.7 129.0,99.3 130.0,98.9 131.0,98.5 132.0,98.1 133.0,97.7 134.0,97.2 135.0,96.8 136.0,96.3 137.0,95.9 138.0,95.4 139.0,95.0 140.0,94.5 141.0,94.0 142.0,93.5 143.0,93.1 144.0,92.6 145.0,92.1 146.0,91.6 147.0,91.1 148.0,90.6 149.0,90.1 150.0,89.6 151.0,89.2 152.0,88.7 153.0,88.2 154.0,87.7 155.0,87.2 156.0,86.7 157.0,86.3 158.0,85.8 159.0,85.3 160.0,84.9 161.0,84.4 162.0,84.0 163.0,83.6 164.0,83.1 165.0,82.7 166.0,82.3 167.0,81.9 168.0,81.5 169.0,81.2 170.0,80.8 171.0,80.5 172.0,80.1 173.0,79.8 174.0,79.5 175.0,79.2 176.0,78.9 177.0,78.6 178.0,78.3 179.0,78.1 180.0,77.8 181.0,77.6 182.0,77.4 183.0,77.2 184.0,77.0 185.0,76.8 186.0,76.7 187.0,76.5 188.0,76.4 189.0,76.3 190.0,76.2 191.0,76.1 192.0,76.0 193.0,75.9 194.0,75.9 195.0,75.8 196.0,75.8 197.0,75.8 198.0,75.8 199.0,75.8 200.0,75.8 201.0,75.8 202.0,75.8 203.0,75.9 204.0,75.9 205.0,76.0 206.0,76.1 207.0,76.1 208.0,76.2 209.0,76.3 210.0,76.4 211.0,76.5 212.0,76.6 213.0,76.8 214.0,76.9 215.0,77.0 216.0,77.2 217.0,77.3 218.0,77.5 219.0,77.6 220.0,77.8 221.0,78.0 222.0,78.1 223.0,78.3 224.0,78.4 225.0,78.6 226.0,78.8 227.0,78.9 228.0,79.1 229.0,79.3 230.0,79.4 231.0,79.6 232.0,79.8 233.0,80.0 234.0,80.2 235.0,80.4 236.0,80.6 237.0,80.8 238.0,80.9 239.0,81.1 240.0,81.3 241.0,81.5 242.0,81.7 243.0,81.9 244.0,82.1 245.0,82.3 246.0,82.5 247.0,82.7 248.0,82.9 249.0,83.1 250.0,83.3 251.0,83.5 252.0,83.7 253.0,83.9 254.0,84.1 255.0,84.3 256.0,84.5 257.0,84.7 258.0,84.9 259.0,85.1 260.0,85.2 261.0,85.4 262.0,85.6 263.0,85.8 264.0,86.0 265.0,86.2 266.0,86.4 267.0,86.6 268.0,86.8 269.0,86.9 270.0,87.1 271.0,87.3 272.0,87.5 273.0,87.7 274.0,87.8 275.0,88.0 276.0,88.2 277.0,88.4 278.0,88.5 279.0,88.7 280.0,88.9 281.0,89.1 282.0,89.2 283.0,89.4 284.0,89.6 285.0,89.7 286.0,89.9 287.0,90.0 288.0,90.2 289.0,90.4 290.0,90.5 291.0,90.7 292.0,90.8 293.0,91.0 294.0,91.2 295.0,91.3 296.0,91.5 297.0,91.6 298.0,91.8 299.0,91.9 300.0,92.0 301.0,92.2 302.0,92.3 303.0,92.5 304.0,92.6 305.6,92.8"/>
<polyline stroke="#66A61E" points="41.4,124.4 41.5,124.4 41.6,124.4 41.7,124.4 41.8,124.4 41.9,124.4 42.0,124.4 42.1,124.4 42.2,124.4 42.3,124.4 42.4,124.4 42.5,124.4 42.6,124.4 42.7,124.4 42.8,124.4 42.9,124.4 43.0,124.4 43.1,124.4 43.2,124.4 43.3,124.4 43.4,124.4 43.5,124.4 43.6,124.4 43.7,124.4 43.8,124.4 43.9,124.4 44.0,124.4 44.1,124.4 44.2,124.4 44.3,124.4 44.4,124.4 44.5,124.4 44.6,124.4 44.7,124.4 44.8,124.4 44.9,124.4 45.0,124.4 45.1,124.4 45.2,124.4 45.3,124.4 45.4,124.4 45.5,124.4 45.6,124.4 45.7,124.4 45.8,124.4 45.9,124.4 46.0,124.4 46.1,124.4 46.2,124.4 46.3,124.4 46.4,124.4 46.5,124.4 46.6,124.4 46.7,124.4 46.8,124.4 46.9,124.4 47.0,124.4 47.1,124.4 47.2,124.4 47.3,124.4 47.4,124.4 47.5,124.4 47.6,124.4 47.7,124.4 47.8,124.4 47.9,124.4 48.0,124.4 48.1,124.4 48.2,124.4 48.3,124.4 48.4,124.4 48.5,124.4 48.6,124.4 48.7,124.4 48.8,124.4 48.9,124.4 49.0,124.4 49.1,124.4 49.2,124.4 49.3,124.4 49.4,124.4 49.5,124.4 49.6,124.4 49.7,124.4 49.8,124.4 49.9,124.4 50.0,124.4 50.1,124.4 50.2,124.4 50.3,124.4 50.4,124.4 50.5,124.4 50.6,124.4 50.7,124.4 50.8,124.4 50.9,124.4 51.0,124.4 51.1,124.4 51.2,124.4 51.3,124.4 51.4,124.4 51.5,124.4 51.6,124.4 51.7,124.4 51.8,124.4 51.9,124.4 52.0,124.4 52.1,124.4 52.2,124.4 52.3,124.4 52.4,124.4 52.5,124.4 52.6,124.4 52.7,124.4 52.8,124.4 52.9,124.4 53.0,124.4 53.1,124.4 53.2,124.4 53.3,124.4 53.4,124.4 53.5,124.4 53.6,124.4 53.7,124.4 53.8,124.4 53.9,124.4 54.0,124.4 54.1,124.4 54.2,124.4 54.3,124.4 54.4,124.4 54.5,124.4 54.6,124.4 54.7,124.4 54.8,124.4 54.9,124.4 55.0,124.4 55.1,124.4 55.2,124.4 55.3,124.4 55.4,124.4 55.5,124.4 55.6,124.4 55.7,124.4 55.8,124.4 55.9,124.4 56.0,124.4 56.1,124.4 56.2,124.4 56.3,124.4 56.4,124.4 56.5,124.4 56.6,124.4 56.7,124.4 56.8,124.4 56.9,124.4 57.0,124.4 57.1,124.4 57.2,124.4 57.3,124.4 57.4,124.4 57.5,124.4 57.6,124.4 57.7,124.4 57.8,124.4 57.9,124.4 58.0,124.3 58.1,124.3 58.2,124.3 58.3,124.3 58.4,124.3 58.5,124.3 58.6,124.3 58.7,124.3 58.8,124.3 58.9,124.3 59.0,124.3 59.1,124.3 59.2,124.3 59.3,124.3 59.4,124.2 59.5,124.2 59.6,124.2 59.7,124.2 59.8,124.2 59.9,124.2 60.0,124.1 60.1,124.1 60.2,124.1 60.3,124.1 60.4,124.0 60.5,124.0 60.6,124.0 60.7,124.0 60.8,123.9 60.9,123.9 61.0,123.9 61.1,123.8 61.2,123.8 61.3,123.7 61.4,123.7 61.5,123.6 61.6,123.6 61.7,123.5 61.8,123.4 61.9,123.4 62.0,123.3 62.1,123.2 62.2,123.1 62.3,123.0 62.4,122.9 62.5,122.8 62.6,122.6 62.7,122.5 62.8,122.3 62.9,122.2 63.0,122.1 63.1,121.9 63.2,121.7 63.3,121.6 63.4,121.4 63.5,121.2 63.6,121.0 63.7,120.8 63.8,120.5 63.9,120.3 64.0,120.0 64.1,119.7 64.2,119.2 64.3,118.7 64.4,118.2 64.5,117.6 64.6,116.9 64.7,116.3 64.8,115.5 64.9,114.7 65.0,113.8 65.1,112.8 65.2,111.8 65.3,110.7 65.4,109.5 65.5,108.1 65.6,106.5 65.7,104.4 65.8,101.7 65.9,99.0 66.0,96.1 66.1,93.8 66.2,92.1 66.3,91.4 66.4,91.3 66.5,91.3 66.6,91.3 66.7,91.6 66.8,92.2 66.9,93.0 67.0,94.2 67.1,95.2 67.2,96.3 67.3,97.4 67.4,98.4 67.5,99.4 67.6,100.3 67.7,101.0 67.8,101.6 67.9,102.2 68.0,102.7 68.1,103.2 68.2,103.7 68.3,104.1 68.4,104.5 68.5,104.9 68.6,105.3 68.7,105.7 68.8,106.0 68.9,106.4 69.0,106.7 69.1,107.1 69.2,107.4 69.3,107.8 69.4,108.1 69.5,108.4 69.6,108.7 69.7,109.0 69.8,109.3 69.9,109.5 70.0,109.7 70.1,109.8 70.2,110.0 70.3,110.1 70.4,110.2 70.5,110.3 70.6,110.5 70.7,110.6 70.8,110.7 70.9,110.7 71.0,110.8 71.1,110.9 71.2,110.9 71.3,111.0 71.4,111.0 71.5,111.1 71.6,111.1 71.7,111.2 71.8,111.2 71.9,111.2 72.0,111.3 72.1,111.3 72.2,111.3 72.3,111.4 72.4,111.4 72.5,111.4 72.6,111.4 72.7,111.5 72.8,111.5 72.9,111.5 73.0,111.5 73.1,111.5 73.2,111.5 73.3,111.5 73.4,111.5 73.5,111.5 73.6,111.5 73.7,111.4 73.8,111.4 73.9,111.4 74.0,111.4 74.1,111.3 74.2,111.3 74.3,111.2 74.4,111.2 74.5,111.2 74.6,111.1 74.7,111.1 74.8,111.0 74.9,111.0 75.0,110.9 75.1,110.8 75.2,110.8 75.3,110.7 75.4,110.7 75.5,110.6 75.6,110.5 75.7,110.5 75.8,110.4 75.9,110.4 76.0,110.3 76.1,110.2 76.2,110.2 76.3,110.1 76.4,110.1 76.5,110.0 76.6,110.0 76.7,109.9 76.8,109.8 76.9,109.8 77.0,109.7 77.1,109.7 77.2,109.6 77.3,109.6 77.4,109.5 77.5,109.5 77.6,109.4 77.7,109.4 77.8,109.3 77.9,109.3 78.0,109.2 78.1,109.2 78.2,109.2 78.3,109.1 78.4,109.1 78.5,109.0 78.6,109.0 78.7,108.9 78.8,108.9 78.9,108.9 79.0,108.8 79.1,108.8 79.2,108.8 79.3,108.7 79.4,108.7 79.5,108.7 79.6,108.6 79.7,108.6 79.8,108.6 79.9,108.5 80.0,108.5 80.1,108.5 80.2,108.4 80.3,108.4 80.4,108.4 80.5,108.4 80.6,108.3 80.7,108.3 80.8,108.3 80.9,108.3 81.0,108.3 81.1,108.2 81.2,108.2 81.3,108.2 81.4,108.2 81.5,108.2 81.6,108.2 81.7,108.1 81.8,108.1 81.9,108.1 82.0,108.1 82.1,108.1 82.2,108.1 82.3,108.1 82.4,108.1 82.5,108.1 82.6,108.1 82.7,108.0 82.8,108.0 82.9,108.0 83.0,108.0 83.1,108.0 83.2,108.0 83.3,108.0 83.4,108.0 83.5,108.0 83.6,108.0 83.7,108.0 83.8,108.0 83.9,108.1 84.0,108.1 84.1,108.1 84.2,108.1 84.3,108.1 84.4,108.1 84.5,108.1 84.6,108.1 84.7,108.1 84.8,108.1 84.9,108.1 85.0,108.1 85.1,108.2 85.2,108.2 85.3,108.2 85.4,108.2 85.5,108.2 85.6,108.2 85.7,108.2 85.8,108.2 85.9,108.3 86.0,108.3 86.1,108.3 86.2,108.3 86.3,108.3 86.4,108.3 86.5,108.3 86.6,108.4 86.7,108.4 86.8,108.4 86.9,108.4 87.0,108.4 87.1,108.4 87.2,108.5 87.3,108.5 87.4,108.5 87.5,108.5 87.6,108.5 87.7,108.5 87.8,108.6 87.9,108.6 88.0,108.6 88.1,108.6 88.2,108.6 88.3,108.7 88.4,108.7 88.5,108.7 88.6,108.7 88.7,108.7 88.8,108.7 88.9,108.8 89.0,108.8 89.1,108.8 89.2,108.8 89.3,108.8 89.4,108.8 89.5,108.9 89.6,108.9 89.7,108.9 89.8,108.9 89.9,108.9 90.0,108.9 90.1,109.0 90.2,109.0 90.3,109.0 90.4,109.0 90.5,109.0 90.6,109.0 90.7,109.1 90.8,109.1 90.9,109.1 91.0,109.1 91.1,109.1 91.2,109.1 91.3,109.1 91.4,109.2 91.5,109.2 91.6,109.2 91.7,109.2 91.8,109.2 91.9,109.2 92.0,109.3 92.1,109.3 92.2,109.3 92.3,109.3 92.4,109.3 92.5,109.3 92.6,109.4 92.7,109.4 92.8,109.4 92.9,109.4 93.0,109.4 93.1,109.4 93.2,109.4 93.3,109.5 93.4,109.5 93.5,109.5 93.6,109.5 93.7,109.5 93.8,109.5 93.9,109.6 94.0,109.6 94.1,109.6 94.2,109.6 94.3,109.6 94.4,109.6 94.5,109.6 94.6,109.7 94.7,109.7 94.8,109.7 94.9,109.7 95.0,109.7 95.1,109.7 95.2,109.7 95.3,109.8 95.4,109.8 95.5,109.8 95.6,109.8 95.7,109.8 95.8,109.8 95.9,109.9 96.0,109.9 96.1,109.9 96.2,109.9 96.3,109.9 96.4,109.9 96.5,109.9 96.6,109.9 96.7,110.0 96.8,110.0 96.9,110.0 97.0,110.0 97.1,110.0 97.2,110.0 97.3,110.0 97.4,110.0 97.5,110.1 97.6,110.1 97.7,110.1 97.8,110.1 97.9,110.1 98.0,110.1 98.1,110.1 98.2,110.1 98.3,110.2 98.4,110.2 98.5,110.2 98.6,110.2 98.7,110.2 98.8,110.2 98.9,110.2 99.0,110.2 99.1,110.2 99.2,110.2 99.3,110.2 99.4,110.3 99.5,110.3 99.6,110.3 99.7,110.3 99.8,110.3 99.9,110.3 100.0,110.3 101.0,110.4 102.0,110.4 103.0,110.4 104.0,110.4 105.0,110.4 106.0,110.3 107.0,110.3 108.0,110.3 109.0,110.2 110.0,110.2 111.0,110.1 112.0,110.0 113.0,109.9 114.0,109.8 115.0,109.7 116.0,109.6 117.0,109.4 118.0,109.2 119.0,109.1 120.0,108.9 121.0,108.7 122.0,108.5 123.0,108.3 124.0,108.1 125.0,107.9 126.0,107.7 127.0,107.4 128.0,107.2 129.0,106.9 130.0,106.7 131.0,106.4 132.0,106.2 133.0,105.9 134.0,105.6 135.0,105.3 136.0,105.1 137.0,104.8 138.0,104.5 139.0,104.2 140.0,103.9 141.0,103.5 142.0,103.2 143.0,102.9 144.0,102.6 145.0,102.2 146.0,101.9 147.0,101.6 148.0,101.2 149.0,100.9 150.0,100.5 151.0,100.2 152.0,99.8 153.0,99.5 154.0,99.1 155.0,98.8 156.0,98.4 157.0,98.0 158.0,97.7 159.0,97.3 160.0,96.9 161.0,96.6 162.0,96.2 163.0,95.9 164.0,95.5 165.0,95.1 166.0,94.8 167.0,94.4 168.0,94.1 169.0,93.7 170.0,93.4 171.0,93.0 172.0,92.7 173.0,92.4 174.0,92.0 175.0,91.7 176.0,91.4 177.0,91.1 178.0,90.7 179.0,90.4 180.0,90.1 181.0,89.8 182.0,89.6 183.0,89.3 184.0,89.0 185.0,88.7 186.0,88.5 187.0,88.2 188.0,88.0 189.0,87.7 190.0,87.5 191.0,87.3 192.0,87.1 193.0,86.9 194.0,86.7 195.0,86.5 196.0,86.3 197.0,86.1 198.0,86.0 199.0,85.8 200.0,85.7 201.0,85.5 202.0,85.4 203.0,85.3 204.0,85.2 205.0,85.1 206.0,85.0 207.0,84.9 208.0,84.8 209.0,84.7 210.0,84.7 211.0,84.6 212.0,84.6 213.0,84.5 214.0,84.5 215.0,84.5 216.0,84.4 217.0,84.4 218.0,84.4 219.0,84.4 220.0,84.4 221.0,84.4 222.0,84.5 223.0,84.5 224.0,84.5 225.0,84.5 226.0,84.5 227.0,84.6 228.0,84.6 229.0,84.6 230.0,84.7 231.0,84.7 232.0,84.8 233.0,84.9 234.0,84.9 235.0,85.0 236.0,85.1 237.0,85.1 238.0,85.2 239.0,85.3 240.0,85.4 241.0,85.5 242.0,85.6 243.0,85.7 244.0,85.8 245.0,85.9 246.0,86.0 247.0,86.1 248.0,86.2 249.0,86.3 250.0,86.4 251.0,86.5 252.0,86.6 253.0,86.8 254.0,86.9 255.0,87.0 256.0,87.1 257.0,87.2 258.0,87.4 259.0,87.5 260.0,87.6 261.0,87.8 262.0,87.9 263.0,88.0 264.0,88.1 265.0,88.3 266.0,88.4 267.0,88.5 268.0,88.7 269.0,88.8 270.0,88.9 271.0,89.1 272.0,89.2 273.0,89.3 274.0,89.5 275.0,89.6 276.0,89.7 277.0,89.9 278.0,90.0 279.0,90.1 280.0,90.3 281.0,90.4 282.0,90.5 283.0,90.7 284.0,90.8 285.0,90.9 286.0,91.1 287.0,91.2 288.0,91.3 289.0,91.5 290.0,91.6 291.0,91.7 292.0,91.8 293.0,92.0 294.0,92.1 295.0,92.2 296.0,92.4 297.0,92.5 298.0,92.6 299.0,92.7 300.0,92.9 301.0,93.0 302.0,93.1 303.0,93.2 304.0,93.4 305.6,93.6"/>
</g>
<text x="41.4" y="140.6" text-anchor="middle" font-size="10.8">350</text>
<text x="94.2" y="140.6" text-anchor="middle" font-size="10.8">400</text>
<text x="147.1" y="140.6" text-anchor="middle" font-size="10.8">450</text>
<text x="199.9" y="140.6" text-anchor="middle" font-size="10.8">500</text>
<text x="252.8" y="140.6" text-anchor="middle" font-size="10.8">550</text>
<text x="37.8" y="129.2" text-anchor="end" font-size="10.8">0</text>
<text x="37.8" y="89.5" text-anchor="end" font-size="10.8">0.01</text>
<text x="37.8" y="49.8" text-anchor="end" font-size="10.8">0.02</text>
<text x="37.8" y="10.1" text-anchor="end" font-size="10.8">0.03</text>
<path d="M94.3 267.4v-3.2M94.3 165.7v3.2M147.2 267.4v-3.2M147.2 165.7v3.2M200.2 267.4v-3.2M200.2 165.7v3.2M253.1 267.4v-3.2M253.1 165.7v3.2M41.4 216.5h3.2M306.0 216.5h-3.2" stroke="#6a6a6a" stroke-width="0.9" fill="none"/>
<rect x="41.4" y="165.7" width="264.6" height="101.7" fill="none" stroke="#8c8c8c" stroke-width="1"/>
<g fill="none" stroke-width="1.70" stroke-linejoin="round" stroke-linecap="butt">
<polyline stroke="#0062BE" points="85.4,266.8 86.4,266.7 87.4,266.4 88.4,266.2 89.4,265.9 90.4,265.5 91.4,265.1 92.4,264.7 93.4,264.2 94.4,263.7 95.4,263.1 96.4,262.5 97.4,261.9 98.4,261.2 99.4,260.6 100.4,259.9 101.4,259.2 102.4,258.4 103.4,257.7 104.4,256.9 105.4,256.1 106.4,255.3 107.4,254.4 108.4,253.5 109.4,252.6 110.4,251.6 111.4,250.6 112.4,249.6 113.4,248.5 114.4,247.4 115.4,246.3 116.4,245.1 117.4,243.9 118.4,242.6 119.4,241.3 120.4,240.0 121.4,238.6 122.4,237.2 123.4,235.8 124.4,234.4 125.4,232.9 126.4,231.4 127.4,229.8 128.4,228.3 129.4,226.7 130.4,225.2 131.4,223.6 132.4,222.0 133.4,220.4 134.4,218.8 135.4,217.2 136.4,215.6 137.4,214.1 138.4,212.5 139.4,210.9 140.4,209.4 141.4,207.9 142.4,206.4 143.4,204.9 144.4,203.5 145.4,202.1 146.4,200.7 147.4,199.3 148.4,198.0 149.4,196.7 150.4,195.5 151.4,194.3 152.4,193.1 153.4,191.9 154.4,190.8 155.4,189.8 156.4,188.7 157.4,187.7 158.4,186.8 159.4,185.8 160.4,184.9 161.4,184.1 162.4,183.2 163.4,182.4 164.4,181.7 165.4,181.0 166.4,180.3 167.4,179.6 168.4,178.9 169.4,178.3 170.4,177.7 171.4,177.2 172.4,176.6 173.4,176.1 174.4,175.6 175.4,175.2 176.4,174.7 177.4,174.3 178.4,173.9 179.4,173.5 180.4,173.2 181.4,172.8 182.4,172.5 183.4,172.2 184.4,171.9 185.4,171.6 186.4,171.3 187.4,171.0 188.4,170.8 189.4,170.5 190.4,170.3 191.4,170.1 192.4,169.9 193.4,169.7 194.4,169.5 195.4,169.3 196.4,169.2 197.4,169.0 198.4,168.9 199.4,168.7 200.4,168.6 201.4,168.4 202.4,168.3 203.4,168.2 204.4,168.1 205.4,168.0 206.4,167.9 207.4,167.8 208.4,167.7 209.4,167.6 210.4,167.5 211.4,167.4 212.4,167.4 213.4,167.3 214.4,167.2 215.4,167.1 216.4,167.1 217.4,167.0 218.4,167.0 219.4,166.9 220.4,166.9 221.4,166.8 222.4,166.8 223.4,166.7 224.4,166.7 225.4,166.6 226.4,166.6 227.4,166.6 228.4,166.5 229.4,166.5 230.4,166.5 231.4,166.4 232.4,166.4 233.4,166.4 234.4,166.3 235.4,166.3 236.4,166.3 237.4,166.3 238.4,166.2 239.4,166.2 240.4,166.2 241.4,166.2 242.4,166.2 243.4,166.1 244.4,166.1 245.4,166.1 246.4,166.1 247.4,166.1 248.4,166.1 249.4,166.0 250.4,166.0 251.4,166.0 252.4,166.0 253.4,166.0 254.4,166.0 255.4,166.0 256.4,166.0 257.4,165.9 258.4,165.9 259.4,165.9 260.4,165.9 261.4,165.9 262.4,165.9 263.4,165.9 264.4,165.9 265.4,165.9 266.4,165.9 267.4,165.9 268.4,165.9 269.4,165.9 270.4,165.9 271.4,165.8 272.4,165.8 273.4,165.8 274.4,165.8 275.4,165.8 276.4,165.8 277.4,165.8 278.4,165.8 279.4,165.8 280.4,165.8 281.4,165.8 282.4,165.8 283.4,165.8 284.4,165.8 285.4,165.8 286.4,165.8 287.4,165.8 288.4,165.8 289.4,165.8 290.4,165.8 291.4,165.8 292.4,165.8 293.4,165.8 294.4,165.8 295.4,165.8 296.4,165.8 297.4,165.8 298.4,165.8 299.4,165.8 300.4,165.8 301.4,165.8 302.4,165.7 303.4,165.7 304.4,165.7 306.0,165.7"/>
<polyline stroke="#DA3510" points="86.4,266.7 87.4,266.6 88.4,266.3 89.4,266.1 90.4,265.9 91.4,265.6 92.4,265.3 93.4,265.0 94.4,264.6 95.4,264.3 96.4,263.9 97.4,263.5 98.4,263.2 99.4,262.8 100.4,262.4 101.4,262.0 102.4,261.6 103.4,261.1 104.4,260.7 105.4,260.2 106.4,259.8 107.4,259.3 108.4,258.7 109.4,258.2 110.4,257.6 111.4,257.1 112.4,256.4 113.4,255.8 114.4,255.1 115.4,254.5 116.4,253.7 117.4,253.0 118.4,252.2 119.4,251.4 120.4,250.6 121.4,249.7 122.4,248.8 123.4,247.9 124.4,246.9 125.4,245.9 126.4,244.9 127.4,243.9 128.4,242.8 129.4,241.7 130.4,240.6 131.4,239.4 132.4,238.3 133.4,237.1 134.4,235.8 135.4,234.6 136.4,233.3 137.4,232.1 138.4,230.8 139.4,229.4 140.4,228.1 141.4,226.8 142.4,225.4 143.4,224.1 144.4,222.7 145.4,221.4 146.4,220.0 147.4,218.6 148.4,217.3 149.4,215.9 150.4,214.6 151.4,213.2 152.4,211.9 153.4,210.6 154.4,209.3 155.4,208.0 156.4,206.7 157.4,205.5 158.4,204.2 159.4,203.0 160.4,201.8 161.4,200.7 162.4,199.5 163.4,198.4 164.4,197.3 165.4,196.2 166.4,195.2 167.4,194.1 168.4,193.1 169.4,192.2 170.4,191.2 171.4,190.3 172.4,189.4 173.4,188.5 174.4,187.7 175.4,186.9 176.4,186.1 177.4,185.3 178.4,184.6 179.4,183.9 180.4,183.2 181.4,182.5 182.4,181.9 183.4,181.2 184.4,180.6 185.4,180.1 186.4,179.5 187.4,179.0 188.4,178.5 189.4,178.0 190.4,177.5 191.4,177.0 192.4,176.6 193.4,176.2 194.4,175.7 195.4,175.3 196.4,175.0 197.4,174.6 198.4,174.3 199.4,173.9 200.4,173.6 201.4,173.3 202.4,173.0 203.4,172.7 204.4,172.4 205.4,172.2 206.4,171.9 207.4,171.7 208.4,171.4 209.4,171.2 210.4,171.0 211.4,170.8 212.4,170.6 213.4,170.4 214.4,170.2 215.4,170.0 216.4,169.9 217.4,169.7 218.4,169.6 219.4,169.4 220.4,169.3 221.4,169.1 222.4,169.0 223.4,168.9 224.4,168.8 225.4,168.6 226.4,168.5 227.4,168.4 228.4,168.3 229.4,168.2 230.4,168.1 231.4,168.0 232.4,168.0 233.4,167.9 234.4,167.8 235.4,167.7 236.4,167.6 237.4,167.6 238.4,167.5 239.4,167.4 240.4,167.4 241.4,167.3 242.4,167.3 243.4,167.2 244.4,167.1 245.4,167.1 246.4,167.0 247.4,167.0 248.4,167.0 249.4,166.9 250.4,166.9 251.4,166.8 252.4,166.8 253.4,166.7 254.4,166.7 255.4,166.7 256.4,166.6 257.4,166.6 258.4,166.6 259.4,166.5 260.4,166.5 261.4,166.5 262.4,166.5 263.4,166.4 264.4,166.4 265.4,166.4 266.4,166.4 267.4,166.3 268.4,166.3 269.4,166.3 270.4,166.3 271.4,166.3 272.4,166.2 273.4,166.2 274.4,166.2 275.4,166.2 276.4,166.2 277.4,166.2 278.4,166.1 279.4,166.1 280.4,166.1 281.4,166.1 282.4,166.1 283.4,166.1 284.4,166.1 285.4,166.1 286.4,166.0 287.4,166.0 288.4,166.0 289.4,166.0 290.4,166.0 291.4,166.0 292.4,166.0 293.4,166.0 294.4,166.0 295.4,166.0 296.4,166.0 297.4,165.9 298.4,165.9 299.4,165.9 300.4,165.9 301.4,165.9 302.4,165.9 303.4,165.9 304.4,165.9 306.0,165.9"/>
<polyline stroke="#EFAC12" points="88.4,266.5 89.4,266.3 90.4,266.1 91.4,265.9 92.4,265.7 93.4,265.5 94.4,265.3 95.4,265.1 96.4,264.8 97.4,264.6 98.4,264.4 99.4,264.1 100.4,263.9 101.4,263.7 102.4,263.4 103.4,263.1 104.4,262.9 105.4,262.6 106.4,262.3 107.4,262.0 108.4,261.7 109.4,261.3 110.4,261.0 111.4,260.6 112.4,260.2 113.4,259.8 114.4,259.4 115.4,259.0 116.4,258.6 117.4,258.1 118.4,257.6 119.4,257.1 120.4,256.6 121.4,256.1 122.4,255.5 123.4,254.9 124.4,254.3 125.4,253.7 126.4,253.0 127.4,252.4 128.4,251.7 129.4,250.9 130.4,250.2 131.4,249.4 132.4,248.7 133.4,247.8 134.4,247.0 135.4,246.2 136.4,245.3 137.4,244.4 138.4,243.5 139.4,242.5 140.4,241.6 141.4,240.6 142.4,239.6 143.4,238.6 144.4,237.5 145.4,236.5 146.4,235.4 147.4,234.3 148.4,233.2 149.4,232.1 150.4,231.0 151.4,229.9 152.4,228.7 153.4,227.6 154.4,226.4 155.4,225.3 156.4,224.1 157.4,222.9 158.4,221.7 159.4,220.6 160.4,219.4 161.4,218.2 162.4,217.0 163.4,215.9 164.4,214.7 165.4,213.6 166.4,212.4 167.4,211.3 168.4,210.2 169.4,209.0 170.4,207.9 171.4,206.8 172.4,205.8 173.4,204.7 174.4,203.6 175.4,202.6 176.4,201.6 177.4,200.6 178.4,199.6 179.4,198.6 180.4,197.7 181.4,196.8 182.4,195.9 183.4,195.0 184.4,194.1 185.4,193.3 186.4,192.4 187.4,191.6 188.4,190.8 189.4,190.0 190.4,189.3 191.4,188.5 192.4,187.8 193.4,187.1 194.4,186.5 195.4,185.8 196.4,185.2 197.4,184.5 198.4,183.9 199.4,183.3 200.4,182.8 201.4,182.2 202.4,181.7 203.4,181.2 204.4,180.7 205.4,180.2 206.4,179.7 207.4,179.2 208.4,178.8 209.4,178.4 210.4,177.9 211.4,177.5 212.4,177.1 213.4,176.8 214.4,176.4 215.4,176.0 216.4,175.7 217.4,175.4 218.4,175.1 219.4,174.7 220.4,174.4 221.4,174.2 222.4,173.9 223.4,173.6 224.4,173.3 225.4,173.1 226.4,172.8 227.4,172.6 228.4,172.4 229.4,172.2 230.4,172.0 231.4,171.8 232.4,171.6 233.4,171.4 234.4,171.2 235.4,171.0 236.4,170.8 237.4,170.7 238.4,170.5 239.4,170.3 240.4,170.2 241.4,170.1 242.4,169.9 243.4,169.8 244.4,169.6 245.4,169.5 246.4,169.4 247.4,169.3 248.4,169.2 249.4,169.1 250.4,169.0 251.4,168.9 252.4,168.8 253.4,168.7 254.4,168.6 255.4,168.5 256.4,168.4 257.4,168.3 258.4,168.2 259.4,168.1 260.4,168.1 261.4,168.0 262.4,167.9 263.4,167.9 264.4,167.8 265.4,167.7 266.4,167.7 267.4,167.6 268.4,167.6 269.4,167.5 270.4,167.4 271.4,167.4 272.4,167.3 273.4,167.3 274.4,167.2 275.4,167.2 276.4,167.2 277.4,167.1 278.4,167.1 279.4,167.0 280.4,167.0 281.4,167.0 282.4,166.9 283.4,166.9 284.4,166.9 285.4,166.8 286.4,166.8 287.4,166.8 288.4,166.7 289.4,166.7 290.4,166.7 291.4,166.6 292.4,166.6 293.4,166.6 294.4,166.6 295.4,166.5 296.4,166.5 297.4,166.5 298.4,166.5 299.4,166.4 300.4,166.4 301.4,166.4 302.4,166.4 303.4,166.4 304.4,166.4 306.0,166.3"/>
<polyline stroke="#701C90" points="92.4,266.1 93.4,265.9 94.4,265.8 95.4,265.6 96.4,265.5 97.4,265.3 98.4,265.1 99.4,265.0 100.4,264.8 101.4,264.7 102.4,264.5 103.4,264.3 104.4,264.2 105.4,264.0 106.4,263.8 107.4,263.6 108.4,263.4 109.4,263.1 110.4,262.9 111.4,262.7 112.4,262.4 113.4,262.2 114.4,261.9 115.4,261.7 116.4,261.4 117.4,261.1 118.4,260.8 119.4,260.4 120.4,260.1 121.4,259.7 122.4,259.4 123.4,259.0 124.4,258.6 125.4,258.2 126.4,257.8 127.4,257.4 128.4,256.9 129.4,256.4 130.4,256.0 131.4,255.5 132.4,254.9 133.4,254.4 134.4,253.9 135.4,253.3 136.4,252.7 137.4,252.1 138.4,251.5 139.4,250.9 140.4,250.2 141.4,249.5 142.4,248.8 143.4,248.1 144.4,247.4 145.4,246.7 146.4,245.9 147.4,245.2 148.4,244.4 149.4,243.6 150.4,242.7 151.4,241.9 152.4,241.1 153.4,240.2 154.4,239.3 155.4,238.4 156.4,237.5 157.4,236.6 158.4,235.7 159.4,234.7 160.4,233.8 161.4,232.8 162.4,231.8 163.4,230.8 164.4,229.9 165.4,228.9 166.4,227.9 167.4,226.9 168.4,225.8 169.4,224.8 170.4,223.8 171.4,222.8 172.4,221.8 173.4,220.8 174.4,219.7 175.4,218.7 176.4,217.7 177.4,216.7 178.4,215.7 179.4,214.7 180.4,213.7 181.4,212.7 182.4,211.7 183.4,210.7 184.4,209.8 185.4,208.8 186.4,207.8 187.4,206.9 188.4,206.0 189.4,205.0 190.4,204.1 191.4,203.2 192.4,202.4 193.4,201.5 194.4,200.6 195.4,199.8 196.4,198.9 197.4,198.1 198.4,197.3 199.4,196.5 200.4,195.7 201.4,195.0 202.4,194.2 203.4,193.5 204.4,192.8 205.4,192.1 206.4,191.4 207.4,190.7 208.4,190.1 209.4,189.4 210.4,188.8 211.4,188.2 212.4,187.6 213.4,187.0 214.4,186.4 215.4,185.8 216.4,185.3 217.4,184.7 218.4,184.2 219.4,183.7 220.4,183.2 221.4,182.7 222.4,182.3 223.4,181.8 224.4,181.4 225.4,180.9 226.4,180.5 227.4,180.1 228.4,179.7 229.4,179.3 230.4,178.9 231.4,178.5 232.4,178.2 233.4,177.8 234.4,177.5 235.4,177.2 236.4,176.8 237.4,176.5 238.4,176.2 239.4,175.9 240.4,175.6 241.4,175.4 242.4,175.1 243.4,174.8 244.4,174.6 245.4,174.3 246.4,174.1 247.4,173.9 248.4,173.6 249.4,173.4 250.4,173.2 251.4,173.0 252.4,172.8 253.4,172.6 254.4,172.4 255.4,172.2 256.4,172.0 257.4,171.9 258.4,171.7 259.4,171.5 260.4,171.4 261.4,171.2 262.4,171.1 263.4,170.9 264.4,170.8 265.4,170.6 266.4,170.5 267.4,170.4 268.4,170.3 269.4,170.1 270.4,170.0 271.4,169.9 272.4,169.8 273.4,169.7 274.4,169.6 275.4,169.5 276.4,169.4 277.4,169.3 278.4,169.2 279.4,169.1 280.4,169.0 281.4,168.9 282.4,168.8 283.4,168.7 284.4,168.7 285.4,168.6 286.4,168.5 287.4,168.4 288.4,168.4 289.4,168.3 290.4,168.2 291.4,168.2 292.4,168.1 293.4,168.0 294.4,168.0 295.4,167.9 296.4,167.9 297.4,167.8 298.4,167.8 299.4,167.7 300.4,167.7 301.4,167.6 302.4,167.6 303.4,167.5 304.4,167.5 306.0,167.4"/>
<polyline stroke="#66A61E" points="41.4,267.4 42.4,267.4 43.4,267.4 44.4,267.4 45.4,267.4 46.4,267.4 47.4,267.4 48.4,267.4 49.4,267.4 50.4,267.4 51.4,267.4 52.4,267.4 53.4,267.4 54.4,267.4 55.4,267.4 56.4,267.4 57.4,267.4 58.4,267.4 59.4,267.4 60.4,267.4 61.4,267.4 62.4,267.4 63.4,267.4 64.4,267.4 65.4,267.4 66.4,267.4 67.4,267.4 68.4,267.4 69.4,267.4 70.4,267.4 71.4,267.4 72.4,267.4 73.4,267.4 74.4,267.4 75.4,267.4 76.4,267.4 77.4,267.3 78.4,267.3 79.4,267.3 80.4,267.3 81.4,267.2 82.4,267.2 83.4,267.1 84.4,267.1 85.4,267.0 86.4,266.9 87.4,266.8 88.4,266.7 89.4,266.6 90.4,266.5 91.4,266.4 92.4,266.3 93.4,266.2 94.4,266.1 95.4,266.0 96.4,265.9 97.4,265.8 98.4,265.7 99.4,265.6 100.4,265.4 101.4,265.3 102.4,265.2 103.4,265.1 104.4,265.0 105.4,264.8 106.4,264.7 107.4,264.6 108.4,264.4 109.4,264.3 110.4,264.1 111.4,264.0 112.4,263.8 113.4,263.6 114.4,263.4 115.4,263.3 116.4,263.1 117.4,262.9 118.4,262.7 119.4,262.4 120.4,262.2 121.4,262.0 122.4,261.7 123.4,261.5 124.4,261.2 125.4,260.9 126.4,260.7 127.4,260.4 128.4,260.1 129.4,259.8 130.4,259.4 131.4,259.1 132.4,258.8 133.4,258.4 134.4,258.0 135.4,257.7 136.4,257.3 137.4,256.9 138.4,256.5 139.4,256.0 140.4,255.6 141.4,255.1 142.4,254.7 143.4,254.2 144.4,253.7 145.4,253.2 146.4,252.7 147.4,252.1 148.4,251.6 149.4,251.0 150.4,250.5 151.4,249.9 152.4,249.3 153.4,248.7 154.4,248.0 155.4,247.4 156.4,246.7 157.4,246.1 158.4,245.4 159.4,244.7 160.4,244.0 161.4,243.3 162.4,242.6 163.4,241.8 164.4,241.1 165.4,240.3 166.4,239.5 167.4,238.8 168.4,238.0 169.4,237.2 170.4,236.4 171.4,235.5 172.4,234.7 173.4,233.9 174.4,233.0 175.4,232.2 176.4,231.3 177.4,230.5 178.4,229.6 179.4,228.7 180.4,227.9 181.4,227.0 182.4,226.1 183.4,225.2 184.4,224.3 185.4,223.4 186.4,222.5 187.4,221.7 188.4,220.8 189.4,219.9 190.4,219.0 191.4,218.1 192.4,217.2 193.4,216.3 194.4,215.5 195.4,214.6 196.4,213.7 197.4,212.9 198.4,212.0 199.4,211.1 200.4,210.3 201.4,209.5 202.4,208.6 203.4,207.8 204.4,207.0 205.4,206.2 206.4,205.4 207.4,204.6 208.4,203.8 209.4,203.0 210.4,202.3 211.4,201.5 212.4,200.8 213.4,200.0 214.4,199.3 215.4,198.6 216.4,197.9 217.4,197.2 218.4,196.5 219.4,195.9 220.4,195.2 221.4,194.5 222.4,193.9 223.4,193.3 224.4,192.7 225.4,192.1 226.4,191.5 227.4,190.9 228.4,190.3 229.4,189.8 230.4,189.2 231.4,188.7 232.4,188.1 233.4,187.6 234.4,187.1 235.4,186.6 236.4,186.1 237.4,185.7 238.4,185.2 239.4,184.7 240.4,184.3 241.4,183.8 242.4,183.4 243.4,183.0 244.4,182.6 245.4,182.2 246.4,181.8 247.4,181.4 248.4,181.0 249.4,180.7 250.4,180.3 251.4,180.0 252.4,179.6 253.4,179.3 254.4,179.0 255.4,178.7 256.4,178.4 257.4,178.1 258.4,177.8 259.4,177.5 260.4,177.2 261.4,176.9 262.4,176.7 263.4,176.4 264.4,176.1 265.4,175.9 266.4,175.7 267.4,175.4 268.4,175.2 269.4,175.0 270.4,174.7 271.4,174.5 272.4,174.3 273.4,174.1 274.4,173.9 275.4,173.7 276.4,173.5 277.4,173.4 278.4,173.2 279.4,173.0 280.4,172.8 281.4,172.7 282.4,172.5 283.4,172.3 284.4,172.2 285.4,172.0 286.4,171.9 287.4,171.8 288.4,171.6 289.4,171.5 290.4,171.3 291.4,171.2 292.4,171.1 293.4,171.0 294.4,170.8 295.4,170.7 296.4,170.6 297.4,170.5 298.4,170.4 299.4,170.3 300.4,170.2 301.4,170.1 302.4,170.0 303.4,169.9 304.4,169.8 306.0,169.7"/>
</g>
<text x="41.4" y="283.6" text-anchor="middle" font-size="10.8">350</text>
<text x="94.3" y="283.6" text-anchor="middle" font-size="10.8">400</text>
<text x="147.2" y="283.6" text-anchor="middle" font-size="10.8">450</text>
<text x="200.2" y="283.6" text-anchor="middle" font-size="10.8">500</text>
<text x="253.1" y="283.6" text-anchor="middle" font-size="10.8">550</text>
<text x="306.0" y="283.6" text-anchor="middle" font-size="10.8">600</text>
<text x="37.8" y="272.2" text-anchor="end" font-size="10.8">0</text>
<text x="37.8" y="221.3" text-anchor="end" font-size="10.8">0.5</text>
<text x="37.8" y="170.5" text-anchor="end" font-size="10.8">1</text>
<path d="M95.2 410.4v-3.2M95.2 309.3v3.2M148.7 410.4v-3.2M148.7 309.3v3.2M202.3 410.4v-3.2M202.3 309.3v3.2M255.8 410.4v-3.2M255.8 309.3v3.2M41.6 359.9h3.2M309.4 359.9h-3.2" stroke="#6a6a6a" stroke-width="0.9" fill="none"/>
<rect x="41.6" y="309.3" width="267.8" height="101.1" fill="none" stroke="#8c8c8c" stroke-width="1"/>
<g fill="none" stroke-width="1.70" stroke-linejoin="round" stroke-linecap="butt">
<polyline stroke="#DA3510" stroke-width="1.1" points="63.8,391.9 64.0,389.9 64.2,387.5 64.4,384.8 64.6,381.6 64.8,378.0 65.0,373.8 65.2,368.9 65.4,363.5 65.6,357.5 65.8,351.1 66.0,344.6 66.2,338.4 66.4,333.2 66.6,329.7 66.8,328.5 67.0,329.7 67.2,333.2 67.4,338.4 67.6,344.6 67.8,351.1 68.0,357.5 68.2,363.5 68.4,368.9 68.6,373.8 68.8,378.0 69.0,381.6 69.2,384.8 69.4,387.5 69.6,389.9 69.8,391.9 70.0,393.7 70.2,395.2 70.4,396.6 70.6,397.8 70.8,398.9 71.0,399.8 71.2,400.6 71.4,401.4 71.6,402.0 71.8,402.6 72.0,403.2 72.2,403.6 72.4,404.1 72.6,404.5 72.8,404.8 73.0,405.2 73.2,405.5 73.4,405.7 73.6,406.0 73.8,406.2 74.0,406.5 74.2,406.7 74.4,406.8 74.6,407.0 74.8,407.2 75.0,407.3 75.2,407.5 75.4,407.6 75.6,407.7 75.8,407.8 76.0,407.9 76.2,408.0 76.4,408.1 76.6,408.2 76.8,408.3 77.0,408.4 77.2,408.5 77.4,408.5 77.6,408.6 77.8,408.7 78.0,408.7 78.2,408.8 78.4,408.8 78.6,408.9 78.8,408.9 79.0,409.0 79.2,409.0 79.4,409.1 79.6,409.1 79.8,409.1 80.0,409.2 82.0,409.5 84.0,409.7 86.0,409.8 88.0,409.9 90.0,410.0 92.0,410.1 94.0,410.1 96.0,410.1 98.0,410.2 100.0,410.2 102.0,410.2 104.0,410.2 106.0,410.3 108.0,410.3 110.0,410.3 112.0,410.3 114.0,410.3 116.0,410.3 118.0,410.3 120.0,410.3 122.0,410.3 124.0,410.3 126.0,410.3 128.0,410.3 130.0,410.3 132.0,410.3 134.0,410.4 136.0,410.4 138.0,410.4 140.0,410.4 142.0,410.4 144.0,410.4 146.0,410.4 148.0,410.4 150.0,410.4 152.0,410.4 154.0,410.4 156.0,410.4 158.0,410.4 160.0,410.4 162.0,410.4 164.0,410.4 166.0,410.4 168.0,410.4 170.0,410.4 172.0,410.4 174.0,410.4 176.0,410.4 178.0,410.4 180.0,410.4 182.0,410.4 184.0,410.4 186.0,410.4 188.0,410.4 190.0,410.4 192.0,410.4 194.0,410.4 196.0,410.4 198.0,410.4 200.0,410.4 202.0,410.4 204.0,410.4 206.0,410.4 208.0,410.4 210.0,410.4 212.0,410.4 214.0,410.4 216.0,410.4 218.0,410.4 220.0,410.4 222.0,410.4 224.0,410.4 226.0,410.4 228.0,410.4 230.0,410.4 232.0,410.4 234.0,410.4 236.0,410.4 238.0,410.4 240.0,410.4 242.0,410.4 244.0,410.4 246.0,410.4 248.0,410.4 250.0,410.4 252.0,410.4 254.0,410.4 256.0,410.4 258.0,410.4 260.0,410.4 262.0,410.4 264.0,410.4 266.0,410.4 268.0,410.4 270.0,410.4 272.0,410.4 274.0,410.4 276.0,410.4 278.0,410.4 280.0,410.4 282.0,410.4 284.0,410.4 286.0,410.4 288.0,410.4 290.0,410.4 292.0,410.4 294.0,410.4 296.0,410.4 298.0,410.4 300.0,410.4 302.0,410.4 304.0,410.4 306.0,410.4 309.4,410.4"/>
<polyline stroke="#66A61E" points="41.6,410.1 42.6,410.0 43.6,410.0 44.6,410.0 45.6,409.9 46.6,409.9 47.6,409.8 48.6,409.8 49.6,409.7 50.6,409.6 51.6,409.5 52.6,409.4 53.6,409.2 54.6,409.0 55.0,408.9 55.2,408.9 55.4,408.8 55.6,408.7 55.8,408.7 56.0,408.6 56.2,408.6 56.4,408.5 56.6,408.4 56.8,408.3 57.0,408.2 57.2,408.2 57.4,408.1 57.6,408.0 57.8,407.9 58.0,407.7 58.2,407.6 58.4,407.5 58.6,407.4 58.8,407.2 59.0,407.1 59.2,406.9 59.4,406.7 59.6,406.5 59.8,406.3 60.0,406.1 60.2,405.8 60.4,405.5 60.6,405.2 60.8,404.9 61.0,404.5 61.2,404.2 61.4,403.7 61.6,403.2 61.8,402.7 62.0,402.1 62.2,401.5 62.4,400.7 62.6,399.9 62.8,399.0 63.0,398.0 63.2,396.8 63.4,395.4 63.6,393.9 63.8,392.1 64.0,390.1 64.2,387.8 64.4,385.1 64.6,382.0 64.8,378.4 65.0,374.2 65.2,369.5 65.4,364.1 65.6,358.2 65.8,351.8 66.0,345.4 66.2,339.3 66.4,334.2 66.6,330.7 66.8,329.5 67.0,330.7 67.2,334.2 67.4,339.3 67.6,345.4 67.8,351.8 68.0,358.2 68.2,364.1 68.4,369.5 68.6,374.2 68.8,378.4 69.0,382.0 69.2,385.1 69.4,387.8 69.6,390.1 69.8,392.1 70.0,393.9 70.2,395.4 70.4,396.8 70.6,398.0 70.8,399.0 71.0,399.9 71.2,400.7 71.4,401.5 71.6,402.1 71.8,402.7 72.0,403.2 72.2,403.7 72.4,404.2 72.6,404.5 72.8,404.9 73.0,405.2 73.2,405.5 73.4,405.8 73.6,406.1 73.8,406.3 74.0,406.5 74.2,406.7 74.4,406.9 74.6,407.1 74.8,407.2 75.0,407.4 75.2,407.5 75.4,407.6 75.6,407.7 75.8,407.9 76.0,408.0 76.2,408.1 76.4,408.2 76.6,408.2 76.8,408.3 77.0,408.4 77.2,408.5 77.4,408.6 77.6,408.6 77.8,408.7 78.0,408.7 78.2,408.8 78.4,408.9 78.6,408.9 78.8,409.0 79.0,409.0 79.2,409.0 79.4,409.1 79.6,409.1 79.8,409.2 80.0,409.2 82.0,409.5 84.0,409.7 86.0,409.8 88.0,409.9 90.0,410.0 92.0,410.1 94.0,410.1 96.0,410.2 98.0,410.2 100.0,410.2 102.0,410.2 104.0,410.2 106.0,410.3 108.0,410.3 110.0,410.3 112.0,410.3 114.0,410.3 116.0,410.3 118.0,410.3 120.0,410.3 122.0,410.3 124.0,410.3 126.0,410.3 128.0,410.3 130.0,410.3 132.0,410.4 134.0,410.4 136.0,410.4 138.0,410.4 140.0,410.4 142.0,410.4 144.0,410.4 146.0,410.4 148.0,410.4 150.0,410.4 152.0,410.4 154.0,410.4 156.0,410.4 158.0,410.4 160.0,410.4 162.0,410.4 164.0,410.4 166.0,410.4 168.0,410.4 170.0,410.4 172.0,410.4 174.0,410.4 176.0,410.4 178.0,410.4 180.0,410.4 182.0,410.4 184.0,410.4 186.0,410.4 188.0,410.4 190.0,410.4 192.0,410.4 194.0,410.4 196.0,410.4 198.0,410.4 200.0,410.4 202.0,410.4 204.0,410.4 206.0,410.4 208.0,410.4 210.0,410.4 212.0,410.4 214.0,410.4 216.0,410.4 218.0,410.4 220.0,410.4 222.0,410.4 224.0,410.4 226.0,410.4 228.0,410.4 230.0,410.4 232.0,410.4 234.0,410.4 236.0,410.4 238.0,410.4 240.0,410.4 242.0,410.4 244.0,410.4 246.0,410.4 248.0,410.4 250.0,410.4 252.0,410.4 254.0,410.4 256.0,410.4 258.0,410.4 260.0,410.4 262.0,410.4 264.0,410.4 266.0,410.4 268.0,410.4 270.0,410.4 272.0,410.4 274.0,410.4 276.0,410.4 278.0,410.4 280.0,410.4 282.0,410.4 284.0,410.4 286.0,410.4 288.0,410.4 290.0,410.4 292.0,410.4 294.0,410.4 296.0,410.4 298.0,410.4 300.0,410.4 302.0,410.4 304.0,410.4 306.0,410.4 309.4,410.4"/>
</g>
<text x="41.6" y="426.6" text-anchor="middle" font-size="10.8">350</text>
<text x="95.2" y="426.6" text-anchor="middle" font-size="10.8">400</text>
<text x="148.7" y="426.6" text-anchor="middle" font-size="10.8">450</text>
<text x="202.3" y="426.6" text-anchor="middle" font-size="10.8">500</text>
<text x="255.8" y="426.6" text-anchor="middle" font-size="10.8">550</text>
<text x="309.4" y="426.6" text-anchor="middle" font-size="10.8">600</text>
<text x="38.0" y="415.2" text-anchor="end" font-size="10.8">0</text>
<text x="38.0" y="364.7" text-anchor="end" font-size="10.8">50</text>
<text x="38.0" y="314.1" text-anchor="end" font-size="10.8">100</text>
<text transform="translate(11 65.3) rotate(-90)" text-anchor="middle" font-size="12.3">luminescence,a.u.</text>
<text transform="translate(11.1 217.5) rotate(-90)" text-anchor="middle" font-size="12">f<tspan font-size="9.6" dy="6.2">c</tspan><tspan dy="-6.2">(1-f</tspan><tspan font-size="9.6" dy="6.2">v</tspan><tspan dy="-6.2">)</tspan></text>
<text transform="translate(12.9 360.3) rotate(-90)" text-anchor="middle" font-size="12.3">Lorentzian</text>
<text x="174.4" y="443" text-anchor="middle" font-size="12.3">wavelength,nm</text>
<text x="288.9" y="40.2" text-anchor="middle" font-size="12">(a)</text>
<text x="333.8" y="238.2" text-anchor="middle" font-size="12">(b)</text>
<text x="335.6" y="368.2" text-anchor="middle" font-size="12">(c)</text>
<rect x="273.5" y="56.5" width="75.8" height="87.3" fill="#fff" stroke="#5e5e5e" stroke-width="1"/>
<path d="M277.4 66.0H302.6" stroke="#0062BE" stroke-width="1.70" fill="none"/>
<text transform="translate(304.2 68.7) scale(0.895 1)" font-size="10.1"><tspan x="0">m</tspan><tspan x="9.50" font-size="8" dy="4.4">h</tspan><tspan x="13.97" dy="-4.4">=0.7m</tspan><tspan x="42.57" font-size="8" dy="4.4">0</tspan></text>
<path d="M277.4 83.0H302.6" stroke="#DA3510" stroke-width="1.70" fill="none"/>
<text transform="translate(304.2 85.7) scale(0.895 1)" font-size="10.1"><tspan x="0">m</tspan><tspan x="9.50" font-size="8" dy="4.4">h</tspan><tspan x="13.97" dy="-4.4">=0.8m</tspan><tspan x="42.57" font-size="8" dy="4.4">0</tspan></text>
<path d="M277.4 100.1H302.6" stroke="#EFAC12" stroke-width="1.70" fill="none"/>
<text transform="translate(304.2 102.8) scale(0.895 1)" font-size="10.1"><tspan x="0">m</tspan><tspan x="9.50" font-size="8" dy="4.4">h</tspan><tspan x="13.97" dy="-4.4">=0.9m</tspan><tspan x="42.57" font-size="8" dy="4.4">0</tspan></text>
<path d="M277.4 117.2H302.6" stroke="#701C90" stroke-width="1.70" fill="none"/>
<text transform="translate(304.2 119.9) scale(0.895 1)" font-size="10.1"><tspan x="0">m</tspan><tspan x="9.50" font-size="8" dy="4.4">h</tspan><tspan x="13.97" dy="-4.4">=1.0m</tspan><tspan x="42.57" font-size="8" dy="4.4">0</tspan></text>
<path d="M277.4 134.3H302.6" stroke="#66A61E" stroke-width="1.70" fill="none"/>
<text transform="translate(304.2 137.0) scale(0.895 1)" font-size="10.1"><tspan x="0">m</tspan><tspan x="9.50" font-size="8" dy="4.4">h</tspan><tspan x="13.97" dy="-4.4">=1.1m</tspan><tspan x="42.57" font-size="8" dy="4.4">0</tspan></text>
</svg>
</body></html>
